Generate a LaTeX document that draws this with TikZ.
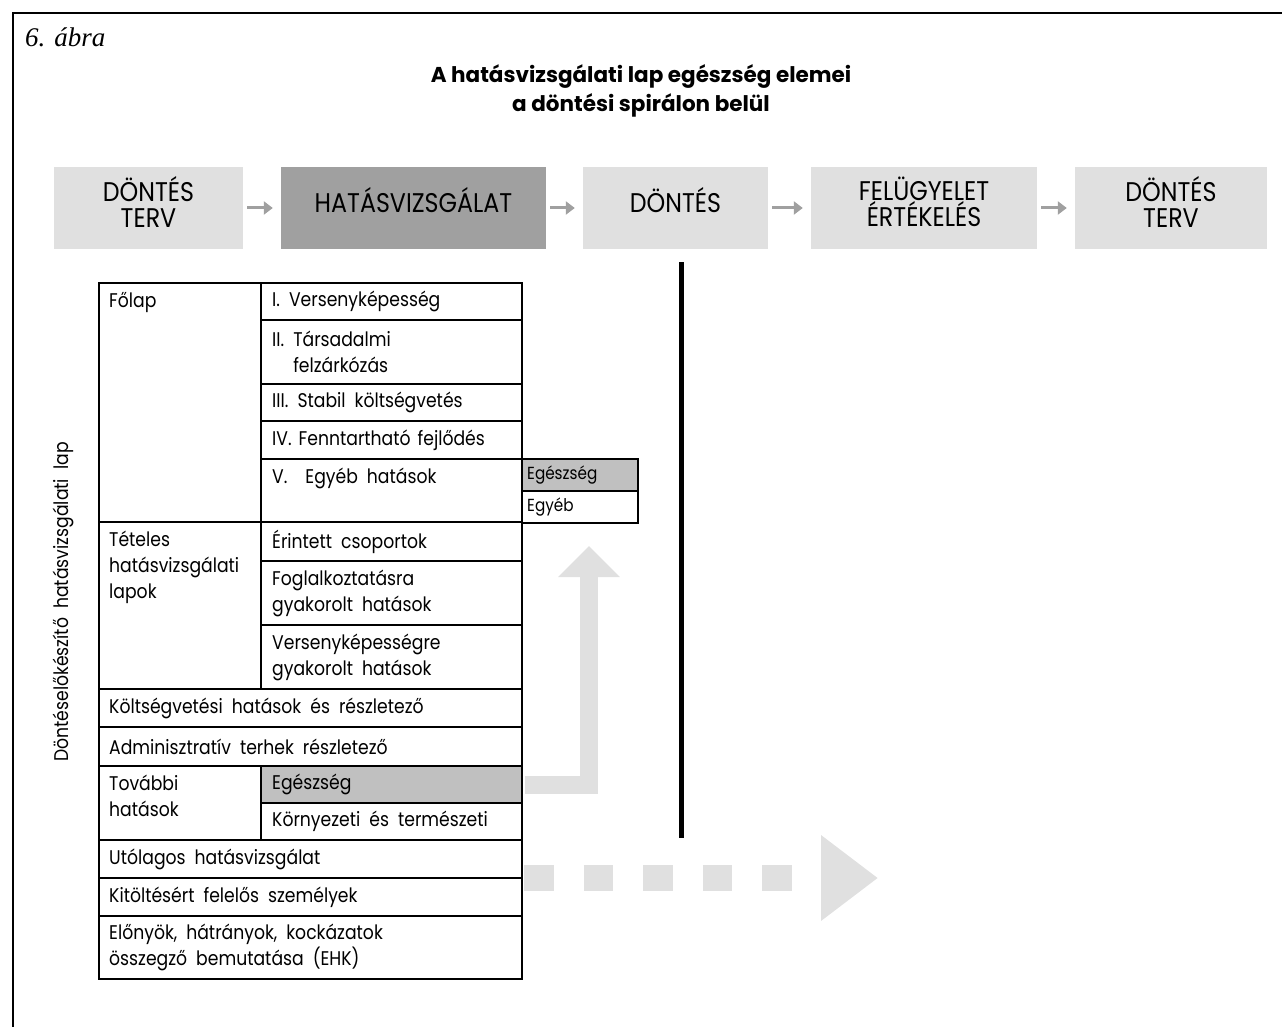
\documentclass[tikz,border=0pt]{standalone}
\usepackage{fontspec}
\setmainfont{Poppins}
\newfontfamily\figserif{Liberation Serif}
\newfontfamily\tabfont[FakeStretch=0.87]{Poppins}
\newfontfamily\stagefont[FakeStretch=0.88]{Poppins}
\usetikzlibrary{arrows.meta}

\definecolor{boxlight}{HTML}{E0E0E0}
\definecolor{boxdark}{HTML}{A0A0A0}
\definecolor{cellgray}{HTML}{C0C0C0}
\definecolor{flowgray}{HTML}{A0A0A0}
\definecolor{bandgray}{HTML}{E0E0E0}

\newcommand{\tabsize}{\tabfont\fontsize{19.8}{26}\selectfont\spaceskip=9pt plus 2pt minus 2pt\relax}

\begin{document}
\begin{tikzpicture}[x=1pt,y=-1pt,
  stage/.style={fill=#1, inner sep=0pt, minimum height=82pt},
  stagetext/.style={inner sep=0pt, align=center,
    font=\stagefont\fontsize{27}{26}\selectfont},
  flow/.style={line width=3pt, draw=flowgray, shorten <=4pt, shorten >=8pt,
    -{Triangle[length=9pt,width=13pt]}},
  tcell/.style={draw=black, line width=2pt, fill=white, anchor=north west, inner sep=0pt},
  ttext/.style={anchor=west, inner sep=0pt, align=left, font=\tabsize},
  toptext/.style={anchor=north west, inner sep=0pt, align=left, font=\tabsize},
  sidetext/.style={anchor=west, inner sep=0pt, font=\tabfont\fontsize{17.5}{20}\selectfont}
]
\useasboundingbox (0,0) rectangle (1282,1027);

% outer frame (continues past the page edges)
\draw[line width=2.5pt] (13,1040) -- (13,13) -- (1295,13);

% caption and title
\node[anchor=west, inner sep=0pt, font=\figserif\itshape\fontsize{27}{30}\selectfont] (fig) at (25,37) {6. ábra};
\node[align=center, font=\bfseries\fontsize{21.5}{29}\selectfont] (title) at (641,91)
  {A hatásvizsgálati lap egészség elemei\\a döntési spirálon belül};

% decision spiral stages
\node[stage=boxlight, minimum width=189pt] (s1) at (148.5,208) {};
\node[stage=boxdark,  minimum width=265pt] (s2) at (413.5,208) {};
\node[stage=boxlight, minimum width=185pt] (s3) at (675.5,208) {};
\node[stage=boxlight, minimum width=226pt] (s4) at (924,208) {};
\node[stage=boxlight, minimum width=192pt] (s5) at (1171,208) {};
\node[stagetext] (s1t) at ([yshift=6pt]s1.center) {DÖNTÉS\\TERV};
\node[stagetext] (s2t) at ([yshift=8pt]s2.center) {HATÁSVIZSGÁLAT};
\node[stagetext] (s3t) at ([yshift=8pt]s3.center) {DÖNTÉS};
\node[stagetext] (s4t) at ([yshift=6pt]s4.center) {FELÜGYELET\\ÉRTÉKELÉS};
\node[stagetext] (s5t) at ([yshift=6pt]s5.center) {DÖNTÉS\\TERV};
\draw[flow] (s1) -- (s2);
\draw[flow] (s2) -- (s3);
\draw[flow] (s3) -- (s4);
\draw[flow] (s4) -- (s5);

% decision line
\coordinate (dtop) at (681,262);
\coordinate (dbot) at (681,838);
\draw[line width=5pt] (dtop) -- (dbot);

% vertical label
\node[rotate=90, inner sep=0pt, font=\tabsize] (side) at (63,602) {Döntéselőkészítő hatásvizsgálati lap};

% Főlap block
\node[tcell, minimum width=162pt, minimum height=239pt] (folap) at (98,282) {};
\node[tcell, minimum width=261pt, minimum height=37pt] (r1) at (260,282) {};
\node[tcell, minimum width=261pt, minimum height=64pt] (r2) at (260,319) {};
\node[tcell, minimum width=261pt, minimum height=37pt] (r3) at (260,383) {};
\node[tcell, minimum width=261pt, minimum height=38pt] (r4) at (260,420) {};
\node[tcell, minimum width=261pt, minimum height=63pt] (r5) at (260,458) {};
\node[tcell, fill=cellgray, minimum width=116pt, minimum height=32pt] (se) at (521,458) {};
\node[tcell, minimum width=116pt, minimum height=32pt] (so) at (521,490) {};
\node[toptext] (folapT) at ([xshift=11pt,yshift=-7pt]folap.north west) {\strut Főlap};
\node[ttext] (r1T) at ([xshift=12pt]r1.west) {I. Versenyképesség};
\node[ttext] (r2T) at ([xshift=12pt]r2.west) {II. Társadalmi\\\hphantom{II. }felzárkózás};
\node[ttext] (r3T) at ([xshift=12pt]r3.west) {III. Stabil költségvetés};
\node[ttext] (r4T) at ([xshift=12pt]r4.west) {\spaceskip=7pt plus 1pt\relax IV. Fenntartható fejlődés};
\node[toptext] (r5T) at ([xshift=12pt,yshift=-7pt]r5.north west) {\strut V.\ \ Egyéb hatások};
\node[sidetext] (seT) at ([xshift=6pt]se.west) {Egészség};
\node[sidetext] (soT) at ([xshift=6pt]so.west) {Egyéb};

% Tételes block
\node[tcell, minimum width=162pt, minimum height=167pt] (tet) at (98,521) {};
\node[tcell, minimum width=261pt, minimum height=39pt] (t1) at (260,521) {};
\node[tcell, minimum width=261pt, minimum height=64pt] (t2) at (260,560) {};
\node[tcell, minimum width=261pt, minimum height=64pt] (t3) at (260,624) {};
\node[toptext] (tetT) at ([xshift=11pt,yshift=-7pt]tet.north west) {\strut Tételes\\hatásvizsgálati\\lapok};
\node[ttext] (t1T) at ([xshift=12pt]t1.west) {Érintett csoportok};
\node[ttext] (t2T) at ([xshift=12pt]t2.west) {Foglalkoztatásra\\gyakorolt hatások};
\node[ttext] (t3T) at ([xshift=12pt]t3.west) {Versenyképességre\\gyakorolt hatások};

% full-width rows
\node[tcell, minimum width=423pt, minimum height=38pt] (kolt) at (98,688) {};
\node[tcell, minimum width=423pt, minimum height=39pt] (adm) at (98,726) {};
\node[ttext] (koltT) at ([xshift=11pt]kolt.west) {Költségvetési hatások és részletező};
\node[ttext] (admT) at ([xshift=11pt]adm.west) {Adminisztratív terhek részletező};

% További hatások block
\node[tcell, minimum width=162pt, minimum height=74pt] (tov) at (98,765) {};
\node[tcell, fill=cellgray, minimum width=261pt, minimum height=37pt] (eg) at (260,765) {};
\node[tcell, minimum width=261pt, minimum height=37pt] (korny) at (260,802) {};
\node[toptext] (tovT) at ([xshift=11pt,yshift=-7pt]tov.north west) {\strut További\\hatások};
\node[ttext] (egT) at ([xshift=12pt]eg.west) {Egészség};
\node[ttext] (kornyT) at ([xshift=12pt]korny.west) {Környezeti és természeti};

% closing rows
\node[tcell, minimum width=423pt, minimum height=38pt] (utol) at (98,839) {};
\node[tcell, minimum width=423pt, minimum height=38pt] (kit) at (98,877) {};
\node[tcell, minimum width=423pt, minimum height=63pt] (elo) at (98,915) {};
\node[ttext] (utolT) at ([xshift=11pt]utol.west) {Utólagos hatásvizsgálat};
\node[ttext] (kitT) at ([xshift=11pt]kit.west) {Kitöltésért felelős személyek};
\node[ttext] (eloT) at ([xshift=11pt]elo.west) {Előnyök, hátrányok, kockázatok\\összegző bemutatása (EHK)};

% feedback of the health element to the summary sheet
\coordinate (uptip) at (589,546);
\draw[line width=18pt, draw=bandgray, shorten <=1.5pt,
  -{Triangle[length=31pt 0,width=60pt 0]}] (eg.east) -| (uptip);

% link towards the later stages
\coordinate (dstart) at (524,878);
\coordinate (dtip) at (878,878);
\draw[line width=26pt, draw=bandgray, dash pattern=on 29.5pt off 30pt,
  -{Triangle[length=57pt 0,width=82pt 0]}] (dstart) -- (dtip);
\end{tikzpicture}
\end{document}
